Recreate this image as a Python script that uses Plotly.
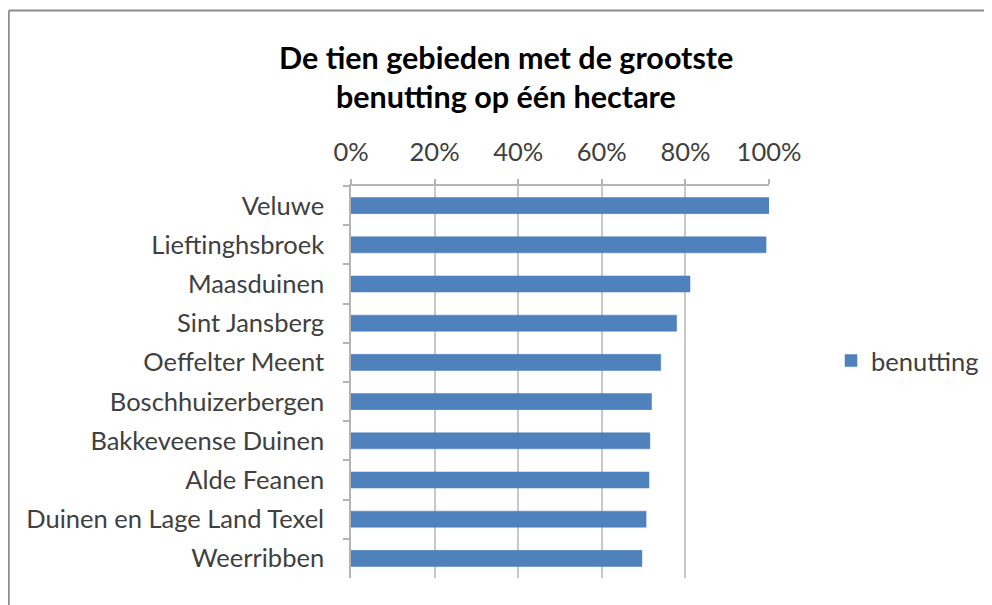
import plotly.graph_objects as go

categories = ["Veluwe", "Lieftinghsbroek", "Maasduinen", "Sint Jansberg", "Oeffelter Meent",
              "Boschhuizerbergen", "Bakkeveense Duinen", "Alde Feanen",
              "Duinen en Lage Land Texel", "Weerribben"]
benutting = [1.000, 0.993, 0.811, 0.779, 0.741, 0.719, 0.715, 0.713, 0.706, 0.696]
tick_vals = [0, 0.2, 0.4, 0.6, 0.8, 1.0]
tick_text = ["0%", "20%", "40%", "60%", "80%", "100%"]

W, H = 992, 605
OFF = 8  # page body margin
L, R, T, B = 351 - OFF, 769 - OFF, 186 - OFF, 578 - OFF

FONT = "Lato"
TXT = "#404040"

fig = go.Figure(go.Bar(
    y=categories, x=benutting, orientation="h", name="benutting",
    marker=dict(color="#4F81BD", line=dict(color="#4A7EBB", width=0.5)),
))

def px_x(p):
    return (p - OFF - L) / (R - L)

def px_y(p):
    return (B - (p - OFF)) / (B - T)

fig.update_layout(
    width=W, height=H,
    margin=dict(l=L, r=W - R, t=T, b=H - B, pad=0),
    paper_bgcolor="white", plot_bgcolor="white",
    font=dict(family=FONT, size=25.5, color=TXT),
    bargap=0.59,
    showlegend=True,
    legend=dict(x=px_x(831), y=px_y(361), xanchor="left", yanchor="middle",
                font=dict(family=FONT, size=25.5, color=TXT), itemwidth=30,
                bgcolor="rgba(0,0,0,0)"),
    xaxis=dict(side="top", range=[0, 1], tickvals=tick_vals, ticktext=tick_text,
               showgrid=True, gridcolor="#C8C8C8", gridwidth=1.5,
               showline=True, linecolor="#B4B4B4", linewidth=1.5,
               ticks="outside", ticklen=5, tickcolor="#B4B4B4", tickwidth=1.5,
               ticklabelstandoff=8, zeroline=False, fixedrange=True),
    yaxis=dict(autorange="reversed", type="category", tickson="boundaries",
               showline=True, linecolor="#B4B4B4", linewidth=1.5,
               ticks="outside", ticklen=6, tickcolor="#B4B4B4", tickwidth=1.5,
               ticklabelstandoff=20, showgrid=False, fixedrange=True),
    annotations=[
        dict(text="<b>De tien gebieden met de grootste</b>", xref="paper", yref="paper",
             x=px_x(506), y=px_y(57), xanchor="center", yanchor="middle", showarrow=False,
             font=dict(family=FONT, size=30.5, color="#000000")),
        dict(text="<b>benutting op één hectare</b>", xref="paper", yref="paper",
             x=px_x(506), y=px_y(96), xanchor="center", yanchor="middle", showarrow=False,
             font=dict(family=FONT, size=30.5, color="#000000")),
    ],
    shapes=[
        dict(type="line", xref="paper", yref="paper", x0=px_x(8.75), x1=px_x(1010),
             y0=px_y(10.5), y1=px_y(10.5), line=dict(color="#8C8C8C", width=2)),
        dict(type="line", xref="paper", yref="paper", x0=px_x(8.75), x1=px_x(8.75),
             y0=px_y(10.5), y1=px_y(620), line=dict(color="#8C8C8C", width=2)),
    ],
)

fig.write_html("out.html")
